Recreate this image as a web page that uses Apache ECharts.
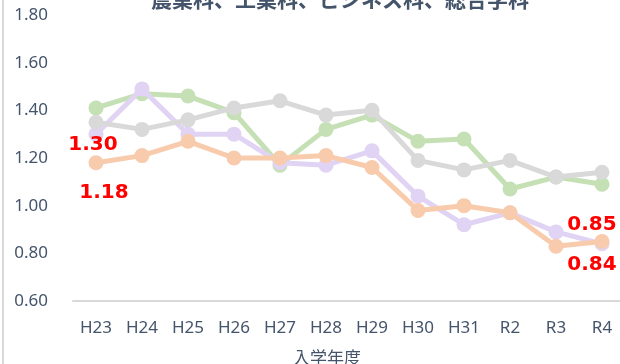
<!DOCTYPE html>
<html>
<head>
<meta charset="utf-8">
<script src="https://cdn.jsdelivr.net/npm/echarts@6/dist/echarts.min.js"></script>
<style>
  html, body { margin: 0; padding: 0; background: #fff; }
  #chart { height: 364px; box-sizing: border-box; border-left: 2px solid #d9d9d9; margin-left: 2px; width: 618px; }
</style>
</head>
<body>
<div id="chart"></div>
<script>
// 入学年度
const years = ['H23', 'H24', 'H25', 'H26', 'H27', 'H28', 'H29', 'H30', 'H31', 'R2', 'R3', 'R4'];
const yTicks = ['0.60', '0.80', '1.00', '1.20', '1.40', '1.60', '1.80'];

// 学科ごとの倍率
const nogyo    = [1.41, 1.47, 1.46, 1.39, 1.17, 1.32, 1.38, 1.27, 1.28, 1.07, 1.12, 1.09];
const kogyo    = [1.30, 1.49, 1.30, 1.30, 1.18, 1.17, 1.23, 1.04, 0.92, 0.97, 0.89, 0.84];
const business = [1.35, 1.32, 1.36, 1.41, 1.44, 1.38, 1.40, 1.19, 1.15, 1.19, 1.12, 1.14];
const sogo     = [1.18, 1.21, 1.27, 1.20, 1.20, 1.21, 1.16, 0.98, 1.00, 0.97, 0.83, 0.85];

const seriesNames = ['農業科', '工業科', 'ビジネス科', '総合学科'];
const seriesData = [nogyo, kogyo, business, sogo];
const colors = ['#c5e0b4', '#e1d3f3', '#d9d9d9', '#f8cbad'];

// 値ラベルを付ける点: [系列, 年度index, オフセット]
const labelled = [
  [1, 0, [-3, 11]],
  [3, 0, [8, 30]],
  [1, 11, [-10, 21]],
  [3, 11, [-10, -17]]
];

const axisColor = '#44546a';
const font = '"Noto Sans", "Noto Sans CJK JP", sans-serif';

const series = seriesData.map((vals, si) => ({
  name: seriesNames[si],
  type: 'line',
  data: vals.map((v, i) => {
    const hit = labelled.find(l => l[0] === si && l[1] === i);
    if (!hit) return v;
    return {
      value: v,
      label: {
        show: true,
        position: 'inside',
        offset: hit[2],
        formatter: p => p.value.toFixed(2),
        color: '#ff0000',
        fontWeight: 'bold',
        fontSize: 20,
        fontFamily: '"DejaVu Sans", sans-serif'
      }
    };
  }),
  symbol: 'circle',
  symbolSize: 15,
  lineStyle: { color: colors[si], width: 5 },
  itemStyle: { color: colors[si] },
  z: 2 + si,
  animation: false
}));

const chart = echarts.init(document.getElementById('chart'));
chart.setOption({
  animation: false,
  title: {
    text: '農業科、工業科、ビジネス科、総合学科',
    left: 142,
    top: -16,
    textStyle: { color: '#44546a', fontSize: 21, fontWeight: 'bold', fontFamily: '"Noto Sans CJK JP", sans-serif' }
  },
  grid: { left: 69, top: 15, width: 552, height: 286, containLabel: false, outerBoundsMode: 'none' },
  xAxis: {
    type: 'category',
    data: years,
    boundaryGap: true,
    name: '入学年度',
    nameLocation: 'middle',
    nameGap: 48,
    nameTextStyle: { color: axisColor, fontSize: 17, padding: [0, 44, 0, 0], fontFamily: '"Noto Sans CJK JP", sans-serif' },
    axisLine: { lineStyle: { color: '#d9d9d9', width: 2 } },
    axisTick: { show: false },
    axisLabel: { color: axisColor, fontSize: 17, margin: 19, fontFamily: font }
  },
  yAxis: {
    type: 'value',
    min: 0.6,
    max: 1.8,
    interval: 0.2,
    axisLine: { show: false },
    axisTick: { show: false },
    splitLine: { show: false },
    axisLabel: {
      color: axisColor,
      fontSize: 17,
      margin: 25,
      fontFamily: font,
      formatter: v => yTicks.find(t => Math.abs(parseFloat(t) - v) < 1e-6) || v.toFixed(2)
    }
  },
  series
});
</script>
</body>
</html>
